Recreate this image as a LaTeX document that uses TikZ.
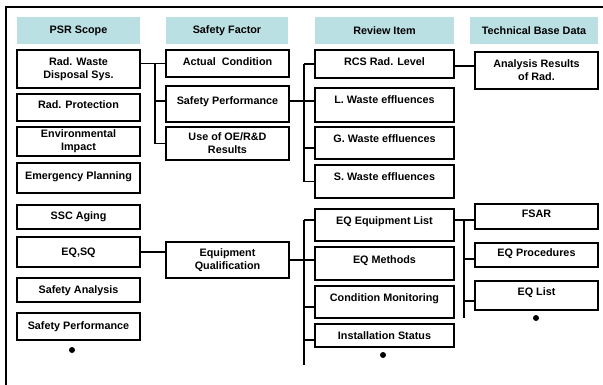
\documentclass[tikz,border=0pt]{standalone}
\usepackage{fontspec}
\setmainfont{Liberation Sans}
\usepackage{tikz}
\usepackage{xcolor}

\definecolor{headcyan}{RGB}{186,224,227}

\begin{document}
\begin{tikzpicture}[x=1pt, y=-1pt,
	every node/.style={font=\fontsize{10.8}{12.8}\selectfont\bfseries, outer sep=0pt},
	head/.style={fill=headcyan, minimum height=27pt, inner sep=0pt, anchor=north west},
	cell/.style n args={3}{draw, line width=2pt, inner sep=0pt, anchor=north west,
		minimum width=#1pt, minimum height=#2pt, text height=#3pt, text depth={#2pt-#3pt}},
	mcell/.style 2 args={draw, line width=2pt, inner sep=0pt, anchor=north west,
		align=center, minimum width=#1pt, minimum height=#2pt},
	link/.style={line width=1.5pt},
	more/.style={circle, fill, inner sep=0pt, minimum size=6pt}]
				%\draw[help lines] (0,0) grid (603,385);
				\useasboundingbox (0,0) rectangle (603,385);
				\draw[line width=1.4pt] (6,385) -- (6,7) -- (603,7);
				
				% column heads
				\node[head, minimum width=123pt] (hScope)  at (17,17)  {PSR Scope};
				\node[head, minimum width=122pt] (hFactor) at (166,17) {Safety Factor};
				\node[head, minimum width=139pt] (hReview) at (315,17) {Review Item};
				\node[head, minimum width=128pt] (hBase)   at (470,17) {Technical Base Data};
				
				% PSR scope
				\node[mcell={123}{38}]        (rws)  at (17,50)  {Rad. Waste\\Disposal Sys.};
				\node[cell={123}{27}{14.8}]   (rp)   at (17,94)  {Rad. Protection};
				\node[mcell={123}{29}]        (env)  at (17,127) {Environmental\\Impact};
				\node[cell={123}{30}{16.8}]   (emp)  at (17,163) {Emergency Planning};
				\node[cell={123}{24}{14.8}]   (ssc)  at (17,205) {SSC Aging};
				\node[cell={123}{30}{18.8}]   (eqsq) at (17,237) {EQ,SQ};
				\node[cell={123}{24}{15.8}]   (sa)   at (17,278) {Safety Analysis};
				\node[cell={123}{27}{16.8}]   (sp)   at (17,313) {Safety Performance};
				\node[more] (dotA) at (72,350) {};
				
				% safety factor
				\node[cell={123}{27}{15.8}]   (ac)   at (166,50)  {Actual~~Condition};
				\node[cell={123}{36}{18.8}]   (sfp)  at (166,86)  {Safety Performance};
				\node[mcell={123}{33}]        (oe)   at (166,127) {Use of OE/R\&D\\Results};
				\node[mcell={123}{36}]        (eqq)  at (166,242) {Equipment\\Qualification};
				
				% review item
				\node[cell={139}{28}{15.8}]   (rcs)  at (315,50)  {RCS Rad. Level};
				\node[cell={139}{34}{15.8}]   (lw)   at (315,88)  {L. Waste effluences};
				\node[cell={139}{32}{15.8}]   (gw)   at (315,127) {G. Waste effluences};
				\node[cell={139}{33}{15.8}]   (sw)   at (315,165) {S. Waste effluences};
				\node[cell={139}{32}{15.8}]   (eql)  at (315,209) {EQ Equipment List};
				\node[cell={139}{33}{16.8}]   (eqm)  at (315,247) {EQ Methods};
				\node[cell={139}{32}{15.8}]   (cm)   at (315,286) {Condition Monitoring};
				\node[cell={139}{23}{15.8}]   (inst) at (315,324) {Installation Status};
				\node[more] (dotC) at (383,355) {};
				
				% technical base data
				\node[mcell={123}{37}]        (arr)    at (475,52)  {Analysis Results\\of Rad.};
				\node[cell={123}{25}{13.8}]   (fsar)   at (475,204) {FSAR};
				\node[cell={123}{24}{13.8}]   (eqp)    at (475,243) {EQ Procedures};
				\node[cell={123}{29}{14.8}]   (eqlist) at (475,281) {EQ List};
				\node[more] (dotD) at (536,318) {};
				
				% buses and ports
				\coordinate (busA) at (155,0);
				\coordinate (busB) at (304,0);
				\coordinate (busBend) at (304,365);
				\coordinate (busD) at (464,0);
				\coordinate (busDend) at (464,318);
				\coordinate (sfpIn)    at ([yshift=3pt]sfp.west);
				\coordinate (sfpOut)   at ([yshift=3pt]sfp.east);
				\coordinate (lwIn)     at ([yshift=4pt]lw.west);
				\coordinate (gwIn)     at ([yshift=-5pt]gw.west);
				\coordinate (rcsOut)   at ([yshift=-2pt]rcs.east);
				\coordinate (eqlIn)    at ([yshift=5pt]eql.west);
				\coordinate (eqlOut)   at ([yshift=5pt]eql.east);
				\coordinate (eqmIn)    at ([yshift=3.5pt]eqm.west);
				\coordinate (cmIn)     at ([yshift=-5pt]cm.west);
				\coordinate (instIn)   at ([yshift=-4.5pt]inst.west);
				\coordinate (fsarIn)   at ([yshift=-3.5pt]fsar.west);
				\coordinate (eqpIn)    at ([yshift=-4pt]eqp.west);
				\coordinate (eqlistIn) at ([yshift=-5.5pt]eqlist.west);
				
				\draw[link] (rws.east |- ac.west) -- (ac.west);
				\draw[link] (busA |- ac.west) |- (oe.west);
				\draw[link] (busA |- sfpIn) -- (sfpIn);
				
				\draw[link] (sfpOut) -- (busB |- sfpOut);
				\draw[link] (busB |- rcs.west) |- (sw.west);
				\draw[link] (busB |- rcs.west) -- (rcs.west);
				\draw[link] (busB |- lwIn) -- (lwIn);
				\draw[link] (busB |- gwIn) -- (gwIn);
				\draw[link] (rcsOut) -- (rcsOut -| arr.west);
				
				\draw[link] (eqsq.east) -- (eqsq.east -| eqq.west);
				\draw[link] (eqq.east) -- (busB |- eqq.east);
				\draw[link] (busB |- eqlIn) -- (busBend);
				\draw[link] (busB |- eqlIn) -- (eqlIn);
				\draw[link] (busB |- eqmIn) -- (eqmIn);
				\draw[link] (busB |- cmIn) -- (cmIn);
				\draw[link] (busB |- instIn) -- (instIn);
				
				\draw[link] (eqlOut) -- (busD |- eqlOut) -- (busDend);
				\draw[link] (busD |- fsarIn) -- (fsarIn);
				\draw[link] (busD |- eqpIn) -- (eqpIn);
				\draw[link] (busD |- eqlistIn) -- (eqlistIn);
\end{tikzpicture}
\end{document}
